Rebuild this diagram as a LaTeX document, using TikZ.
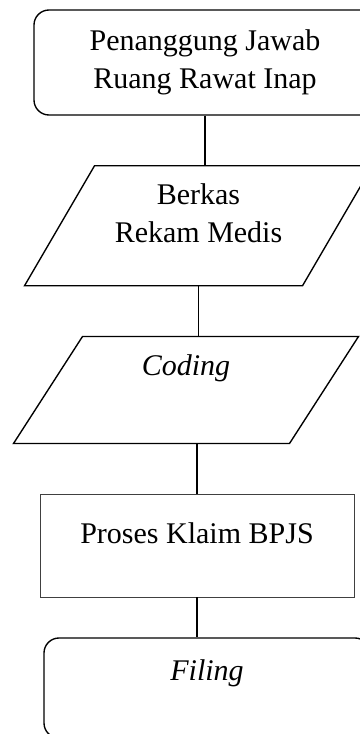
\documentclass[tikz,border=0pt]{standalone}
\usepackage{fontspec}
\setmainfont{Liberation Serif}

\tikzset{
  % flowchart symbols
  terminal/.style={draw, line width=0.55pt, rounded corners=6pt, align=center},
  dataio/.style={rectangle, inner sep=0pt},
  process/.style={draw=black!75, line width=0.3pt, rectangle},
  link/.style={draw, line width=0.55pt},
}
\newcommand{\drawslanted}[2]{% Parameters: node name, slant
  \draw[line width=0.55pt] (#1.south west) -- ([xshift=-#2]#1.south east)
    -- (#1.north east) -- ([xshift=#2]#1.north west) -- cycle;
}

\begin{document}
\begin{tikzpicture}[x=0.4pt, y=-0.4pt, font=\fontsize{12}{15}\selectfont]
  \useasboundingbox (0,0) rectangle (360,734);
  \clip (0,0) rectangle (360,734);

  \node[terminal, minimum width=136.8pt, minimum height=42pt] (pj) at (205,62.5)
    {Penanggung Jawab\\Ruang Rawat Inap};
  \node[dataio, minimum width=138.8pt, minimum height=47.6pt,
        label={[yshift=5pt, align=center]center:Berkas\\Rekam Medis}] (berkas) at (198.5,225.8) {};
  \node[dataio, minimum width=137.6pt, minimum height=42.4pt,
        label={[yshift=8.8pt]center:\textit{Coding}}] (coding) at (186,390) {};
  \node[process, minimum width=125.6pt, minimum height=41.2pt,
        label={[yshift=5pt]center:Proses Klaim BPJS}] (klaim) at (197,545.5) {};
  \node[terminal, minimum width=130.4pt, minimum height=40pt,
        label={[yshift=6pt]center:\textit{Filing}}] (filing) at (207,688) {};
  \drawslanted{berkas}{28pt}
  \drawslanted{coding}{27.6pt}

  % connectors
  \draw[link] (pj.south) -- (pj.south |- berkas.north);
  \draw[link] (berkas.south) -- (berkas.south |- coding.north);
  \draw[link] (klaim.north |- coding.south) -- (klaim.north);
  \draw[link] (klaim.south) -- (klaim.south |- filing.north);
\end{tikzpicture}
\end{document}
